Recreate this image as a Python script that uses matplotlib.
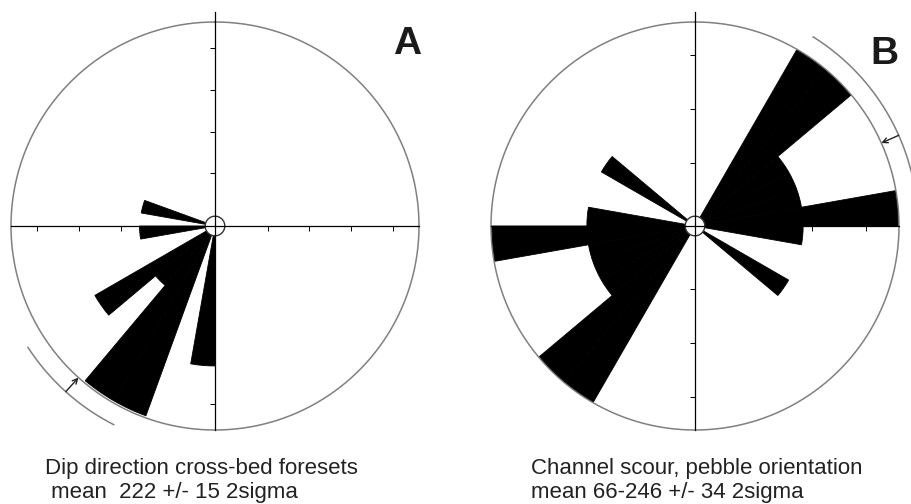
import numpy as np
import matplotlib
matplotlib.use('Agg')
import matplotlib.pyplot as plt

plt.rcParams['font.family'] = ['Liberation Sans', 'DejaVu Sans']

# Panel A: dip direction of cross-bed foresets (10 degree bins, start bearing)
a_bins = [180, 200, 210, 220, 230, 260, 280]
a_len = [0.686, 0.99, 0.99, 0.38, 0.68, 0.37, 0.367]
a_ticks = [0.258, 0.462, 0.667, 0.871]
a_mean, a_sig = 222, 15

# Panel B: channel scour, pebble orientation (bidirectional)
b_bins = [30, 40, 50, 60, 70, 80, 90, 120, 210, 220, 230, 240, 250, 260, 270, 300]
b_len = [0.995, 0.995, 0.53, 0.53, 0.53, 0.995, 0.53, 0.53,
         0.995, 0.995, 0.53, 0.53, 0.53, 0.995, 0.53, 0.53]
b_ticks = [0.31, 0.573, 0.837]
b_mean, b_sig = 66, 34

W, H = 912, 504
RMAX = 1.15
R_PX = 204
ARC_R = 1.093
HOLE = 0.048

fig = plt.figure(figsize=(W / 100, H / 100), dpi=100)


def rose(cx, cy, bins, lengths, ticks, mean, sig):
    half = R_PX * RMAX
    ax = fig.add_axes([(cx - half) / W, (H - cy - half) / H, 2 * half / W, 2 * half / H],
                      projection='polar')
    ax.set_theta_zero_location('N')
    ax.set_theta_direction(-1)
    ax.set_ylim(0, RMAX)
    ax.axis('off')

    # petals
    centers = np.deg2rad(np.array(bins) + 5)
    ax.bar(centers, lengths, width=np.deg2rad(10), bottom=0, align='center',
           color='black', edgecolor='black', linewidth=0.6, zorder=2)

    # outer circle
    th = np.linspace(0, 2 * np.pi, 721)
    ax.plot(th, np.ones_like(th), color='#808080', lw=1.1, zorder=1)

    # inner hole
    ax.fill(th, np.full_like(th, HOLE), facecolor='white', edgecolor='#333333',
            lw=1.0, zorder=3)

    # cross hairs
    for ang, top in [(0, 1.05), (90, 1.0), (180, 1.0), (270, 1.0)]:
        ax.plot([np.deg2rad(ang)] * 2, [0, top], color='black', lw=0.9, zorder=4)
        mk = 0 if ang in (0, 180) else 3  # tickleft / tickdown
        ax.plot([np.deg2rad(ang)] * len(ticks), ticks, ls='none', marker=mk,
                markersize=3.5, mew=0.7, color='black', zorder=4)

    # mean +/- 2 sigma arc with arrow
    arc = np.deg2rad(np.linspace(mean - sig, mean + sig, 100))
    ax.plot(arc, np.full_like(arc, ARC_R), color='#808080', lw=1.1, clip_on=False)
    ax.annotate('', xy=(np.deg2rad(mean), 1.0), xytext=(np.deg2rad(mean), ARC_R),
                arrowprops=dict(arrowstyle='->', lw=1, color='#222222',
                                shrinkA=0, shrinkB=0, mutation_scale=9))
    return ax


rose(215, 226, a_bins, a_len, a_ticks, a_mean, a_sig)
rose(695, 226, b_bins, b_len, b_ticks, b_mean, b_sig)

# panel letters
fig.text(407 / W, 1 - 44 / H, 'A', fontsize=28, fontweight='bold', color='#1a1a1a',
         ha='center', va='center')
fig.text(884 / W, 1 - 54 / H, 'B', fontsize=28, fontweight='bold', color='#1a1a1a',
         ha='center', va='center')

# captions
cap = dict(fontsize=16, color='#222222', ha='left', va='baseline')
fig.text(45 / W, 1 - 474 / H, 'Dip direction cross-bed foresets', **cap)
fig.text(45 / W, 1 - 498 / H, ' mean  222 +/- 15 2sigma', **cap)
fig.text(531 / W, 1 - 474 / H, 'Channel scour, pebble orientation', **cap)
fig.text(531 / W, 1 - 498 / H, 'mean 66-246 +/- 34 2sigma', **cap)

fig.savefig('out.png', dpi=100, facecolor='white')
